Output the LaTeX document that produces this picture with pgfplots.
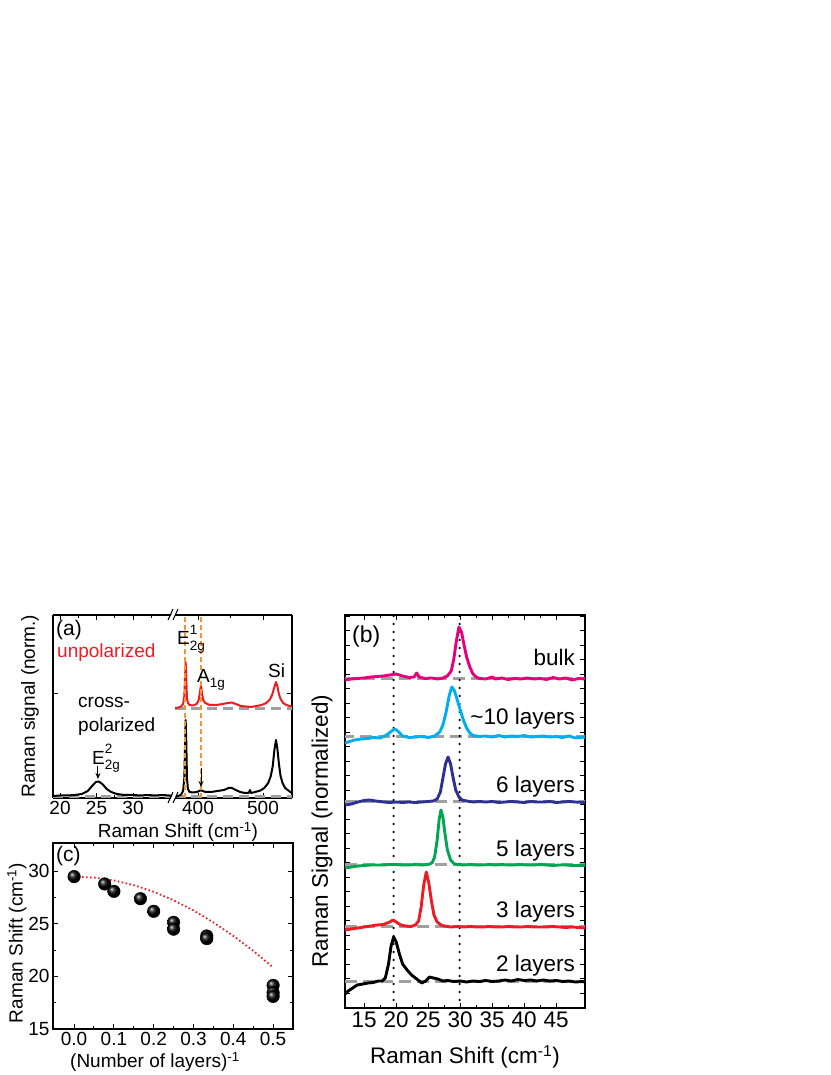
\documentclass[border=0pt]{standalone}
\usepackage{fontspec}
\setmainfont{Liberation Sans}
\usepackage{pgfplots}
\pgfplotsset{compat=1.18}
\usetikzlibrary{plotmarks,arrows.meta}
\definecolor{cred}{RGB}{237,28,36}
\definecolor{cmag}{RGB}{230,0,126}
\definecolor{ccyan}{RGB}{0,174,239}
\definecolor{cnavy}{RGB}{46,49,146}
\definecolor{cgreen}{RGB}{0,166,81}
\definecolor{corange}{RGB}{243,150,40}
\definecolor{cgray}{RGB}{160,160,160}
\newcommand{\fa}{\fontsize{19}{22}\selectfont}
\newcommand{\fb}{\fontsize{22.5}{26}\selectfont}
\newcommand{\fs}{\fontsize{13.5}{14}\selectfont}
\pgfplotsset{
  myaxis/.style={
    scale only axis, anchor=south west,
    tick align=inside,
    major tick length=5pt, minor tick length=3pt,
    axis line style={line width=1.3pt,-},
    every tick/.style={line width=1pt, black},
    every minor tick/.style={line width=1pt, black},
    /pgf/number format/assume math mode=true,
  },
}
\begin{document}
\begin{tikzpicture}
\useasboundingbox (0,0) rectangle (830pt,1075pt);

%% ---------------- panel (a), left part
\begin{axis}[myaxis, at={(53pt,277pt)}, width=122pt, height=183pt,
  xmin=19.04, xmax=35.75, ymin=0, ymax=183,
  axis x line*=box, axis y line*=left, xtick pos=both, ytick pos=left,
  xtick={20,25,30}, minor xtick={22.5,27.5,32.5,35}, ytick={104}, yticklabels={},
  tick label style={font=\fa}]
\addplot[cgray, line width=3pt, dash pattern=on 10pt off 6pt] coordinates {(19.04,1) (35.75,1)};
\addplot[black, line width=2pt, line join=round] coordinates {
(19.0,2) (20.0,2.5) (21.0,2.5) (22.0,3) (23.0,4) (23.8,7) (24.4,12) (24.9,16) (25.3,16.5)
(25.8,14) (26.4,9) (27.0,6) (27.8,4) (28.8,3) (30.0,3) (31.0,2.5) (32.0,3) (33.0,2.5)
(34.0,3) (35.0,2.5) (35.75,2)};
\draw[-{Stealth[length=6pt,width=5pt]}, line width=1pt] (axis cs:25.2,32) -- (axis cs:25.2,19);
\end{axis}

%% ---------------- panel (a), right part
\begin{axis}[myaxis, at={(175pt,277pt)}, width=117pt, height=183pt,
  xmin=364.6, xmax=544.6, ymin=0, ymax=183,
  axis x line*=box, axis y line*=right, xtick pos=both, ytick pos=right,
  xtick={400,500}, minor xtick={450}, ytick={104}, yticklabels={},
  tick label style={font=\fa}]
\addplot[cgray, line width=3pt, dash pattern=on 10pt off 6pt] coordinates {(364.6,1) (544.6,1)};
\addplot[cgray, line width=3pt, dash pattern=on 10pt off 6pt] coordinates {(364.6,89) (544.6,89)};
\addplot[black, line width=2pt, line join=round] coordinates {
(364.6,1) (370,2) (374,3.5) (377,7) (379,20) (380,50) (381,78) (382,55) (383,20) (384.5,9)
(387,6) (392,5.5) (398,6) (402,7) (404.6,8) (407,7) (412,6) (420,6) (430,7) (440,8)
(447,10) (452,10) (458,8) (465,6) (472,5) (478,5) (480,8) (481.5,5) (488,6) (496,7.5)
(502,10) (508,15) (512,22) (515,32) (517.5,48) (520,58) (522,50) (524.5,34) (527,22)
(530,15) (534,10) (538,8) (542,6) (544.6,5)};
\addplot[cred, line width=2pt, line join=round] coordinates {
(364.6,90) (370,90.5) (374,91.5) (377,94) (379,102) (380,120) (381,136) (382,118) (383,100)
(384.5,95) (387,93) (392,92.5) (398,94) (401,98) (403,106) (404.6,113) (406,105) (408,98)
(411,95) (418,93) (428,93) (438,94) (446,95) (452,95.5) (458,94) (466,92) (474,91.5)
(482,91) (490,92) (498,93) (505,95) (510,98) (514,103) (517,110) (520,116) (522,112)
(524.5,104) (527,99) (531,95) (536,93) (541,92) (544.6,91.5)};
\addplot[corange, line width=1.5pt, dash pattern=on 5pt off 3pt] coordinates {(380.3,0) (380.3,183)};
\addplot[corange, line width=1.5pt, dash pattern=on 5pt off 3pt] coordinates {(404.6,0) (404.6,183)};
\draw[-{Stealth[length=6pt,width=5pt]}, line width=1pt] (axis cs:404.6,30) -- (axis cs:404.6,11);
\end{axis}

% axis break marks
\fill[white] (169pt,272pt) -- (174pt,283pt) -- (178pt,283pt) -- (173pt,272pt) -- cycle;
\draw[line width=1pt] (168pt,272pt) -- (173pt,283pt) (173pt,272pt) -- (178pt,283pt);
\fill[white] (169pt,455pt) -- (174pt,466pt) -- (178pt,466pt) -- (173pt,455pt) -- cycle;
\draw[line width=1pt] (168pt,455pt) -- (173pt,466pt) (173pt,455pt) -- (178pt,466pt);

% panel (a) texts
\node[anchor=base west, inner sep=0, font=\fontsize{21}{24}\selectfont] at (56pt,439pt) {(a)};
\node[anchor=base west, inner sep=0, font=\fa, text=cred] at (57pt,417pt) {unpolarized};
\node[anchor=base west, inner sep=0, font=\fa] at (78pt,367pt) {cross-};
\node[anchor=base west, inner sep=0, font=\fa] at (78pt,343pt) {polarized};
\node[anchor=base west, inner sep=0, font=\fa] at (92pt,310pt) {E\rlap{\raisebox{11pt}{\fs 2}}\raisebox{-5pt}{\fs 2g}};
\node[anchor=base west, inner sep=0, font=\fa] at (177pt,430pt) {E\rlap{\raisebox{10pt}{\fs 1}}\raisebox{-6pt}{\fs 2g}};
\node[anchor=base west, inner sep=0, font=\fa] at (197pt,392pt) {A\raisebox{-5pt}{\fs 1g}};
\node[anchor=base west, inner sep=0, font=\fa] at (268pt,397pt) {Si};
\node[rotate=90, font=\fa] at (30pt,369pt) {Raman signal (norm.)};
\node[font=\fa] at (178pt,243pt) {Raman Shift (cm\textsuperscript{-1})};

%% ---------------- panel (c)
\begin{axis}[myaxis, at={(53pt,46pt)}, width=240pt, height=186pt,
  xmin=-0.053, xmax=0.55, ymin=15, ymax=32.7,
  xtick={0,0.1,0.2,0.3,0.4,0.5}, minor x tick num=1,
  ytick={15,20,25,30}, minor y tick num=1,
  tick label style={font=\fa},
  xticklabel style={/pgf/number format/.cd, fixed, fixed zerofill, precision=1}]
\addplot[cred, line width=1.8pt, dash pattern=on 1.6pt off 2.4pt] coordinates {
(0,29.5) (0.05,29.41) (0.1,29.14) (0.15,28.69) (0.2,28.06) (0.25,27.25) (0.3,26.28)
(0.35,25.14) (0.4,23.86) (0.45,22.44) (0.5,20.86)};
\addplot[only marks, mark=ball, mark size=6.3pt, mark options={ball color=black}] coordinates {
(0,29.5) (0.0769,28.8) (0.1,28.1) (0.1667,27.4) (0.2,26.2) (0.25,25.15) (0.25,24.5)
(0.3333,23.85) (0.3333,23.6) (0.5,19.15) (0.5,18.45) (0.5,18.1)};
\end{axis}
\node[anchor=base west, inner sep=0, font=\fontsize{21}{24}\selectfont] at (56pt,213pt) {(c)};
\node[rotate=90, font=\fa] at (17pt,132pt) {Raman Shift (cm\textsuperscript{-1})};
\node[font=\fa] at (155pt,13pt) {(Number of layers)\textsuperscript{-1}};

%% ---------------- panel (b)
\begin{axis}[myaxis, at={(345pt,67pt)}, width=240pt, height=393pt,
  xmin=12, xmax=49.5, ymin=0, ymax=393,
  xtick={15,20,...,45}, minor x tick num=1,
  ytick={14.5,29,...,390}, yticklabels={},
  tick label style={font=\fb}]
\addplot[cgray, line width=3pt, dash pattern=on 12pt off 6pt] coordinates {(12,329) (49.5,329)};
\addplot[cgray, line width=3pt, dash pattern=on 12pt off 6pt] coordinates {(11.5,271) (49.5,271)};
\addplot[cgray, line width=3pt, dash pattern=on 12pt off 6pt] coordinates {(12,206) (49.5,206)};
\addplot[cgray, line width=3pt, dash pattern=on 12pt off 6pt] coordinates {(12,143) (49.5,143)};
\addplot[cgray, line width=3pt, dash pattern=on 12pt off 6pt] coordinates {(12,81) (49.5,81)};
\addplot[cgray, line width=3pt, dash pattern=on 12pt off 6pt] coordinates {(12,26) (49.5,26)};
\addplot[black, line width=2.5pt, dash pattern=on 0pt off 8pt, line cap=round] coordinates {(19.6,0) (19.6,393)};
\addplot[black, line width=2.5pt, dash pattern=on 0pt off 8pt, line cap=round] coordinates {(29.9,0) (29.9,393)};
% bulk
\addplot[cmag, line width=2.9pt, line join=round] coordinates {
(12.0,328) (13.0,329) (14.0,329.5) (15.0,330) (16.0,331) (17.0,331.5) (18.0,332) (19.0,333)
(20.0,334) (21.0,332) (22.0,330.5) (22.8,331) (23.2,335) (23.6,331) (24.5,329.5) (25.5,330)
(26.5,329) (27.3,330) (28.0,332) (28.6,337) (29.0,349) (29.4,367) (29.8,381) (30.2,376)
(30.6,363) (31.0,351) (31.5,341) (32.0,334) (32.5,331) (33.0,329.5) (34.0,329) (35.0,331)
(35.5,329) (36.5,330) (37.5,328.5) (38.5,329.5) (39.5,329) (40.5,330) (41.5,329) (42.5,329.5)
(43.5,328.5) (44.5,330.5) (45.5,329) (46.5,330) (47.5,328) (48.5,329.5) (49.5,329)};
% ~10 layers
\addplot[ccyan, line width=2.9pt, line join=round] coordinates {
(12.0,265) (12.5,266) (13.5,268) (14.5,269) (15.5,269.5) (16.5,270.5) (17.5,270) (18.5,273)
(19.3,277) (19.8,279) (20.4,276) (21.0,272) (22.0,270.5) (23.0,271) (24.0,271.5) (25.0,270.5)
(26.0,272) (26.8,276) (27.3,283) (27.8,296) (28.3,313) (28.7,321) (29.1,317) (29.5,309)
(30.0,298) (30.5,288) (31.0,280) (31.5,275) (32.0,272.5) (33.0,271.5) (34.0,272) (35.0,271)
(36.0,272.5) (37.0,271) (38.0,272) (39.0,271.5) (40.0,272.5) (41.0,271) (42.0,271.5)
(43.0,272) (44.0,271) (45.0,271.5) (46.0,270.5) (47.0,272) (48.0,270) (49.5,271)};
% 6 layers
\addplot[cnavy, line width=2.9pt, line join=round] coordinates {
(12.0,203) (13.0,204) (14.0,206) (15.0,207.5) (15.8,208) (16.8,207) (18.0,206) (19.0,205.5)
(20.0,206) (21.0,205.5) (22.0,206) (23.0,205.5) (24.0,206) (25.0,206.5) (25.8,207) (26.4,209)
(26.9,216) (27.3,230) (27.7,244) (28.1,251) (28.5,244) (28.9,230) (29.3,218) (29.8,211)
(30.3,208) (31.0,207) (32.0,206) (33.0,206.5) (34.0,206) (35.0,206.5) (36.0,205.5) (37.0,206)
(38.0,206.5) (39.0,206) (40.0,205.5) (41.0,206.5) (42.0,206) (43.0,206) (44.0,206.5)
(45.0,205.5) (46.0,206) (47.0,206.5) (48.0,206) (49.5,205.5)};
% 5 layers
\addplot[cgreen, line width=2.9pt, line join=round] coordinates {
(12.0,140) (13.0,141) (14.0,142) (15.0,142.5) (16.0,143) (17.0,143) (18.0,143) (19.0,143.5)
(20.0,143.5) (21.0,143) (22.0,143) (23.0,143.5) (24.0,143) (25.0,143.5) (25.6,145) (26.0,151)
(26.4,168) (26.7,188) (27.0,198) (27.3,191) (27.6,175) (28.0,158) (28.5,148) (29.0,144.5)
(29.5,143.5) (30.5,143) (31.5,143.5) (32.5,143) (33.5,143) (34.5,143.5) (35.5,143) (36.5,143.5)
(37.5,143) (38.5,143) (39.5,143.5) (40.5,143) (41.5,143) (42.5,143.5) (43.5,143) (44.5,142.5)
(45.5,143) (46.5,143) (47.5,142.5) (48.5,142.5) (49.5,142.5)};
% 3 layers
\addplot[cred, line width=2.9pt, line join=round] coordinates {
(12.0,78) (13.0,79) (14.0,80) (15.0,81) (16.0,82) (17.0,83) (18.0,83.5) (19.0,86) (19.5,88)
(20.0,86) (20.7,83) (21.5,82) (22.3,81.5) (23.0,83) (23.5,87) (23.9,101) (24.3,123) (24.7,136)
(25.1,125) (25.5,107) (25.9,93) (26.4,86) (27.0,83) (27.5,82) (28.5,81) (29.5,81.5) (30.5,81)
(31.5,81.5) (32.5,81) (33.5,81) (34.5,81.5) (35.5,81) (36.5,81) (37.5,81.5) (38.5,81) (39.5,81)
(40.5,81.5) (41.5,81) (42.5,81) (43.5,81) (44.5,81.5) (45.5,81) (46.5,80.5) (47.5,81)
(48.5,80.5) (49.5,80)};
% 2 layers
\addplot[black, line width=2.9pt, line join=round] coordinates {
(12.0,14) (12.5,17) (13.2,20) (13.9,23) (14.8,24) (15.6,25) (16.4,25.5) (17.2,27) (17.8,27)
(18.3,30) (18.8,44) (19.2,62) (19.6,71) (20.0,66) (20.5,54) (21.0,44) (21.7,38) (22.4,33)
(23.2,29) (24.0,25) (24.6,27) (25.2,31) (25.8,30) (26.5,29) (27.3,27) (28.0,27.5) (29.0,26.5)
(30.0,27) (31.0,26) (32.0,27) (33.0,26.5) (34.0,27.5) (35.0,26.5) (36.0,27) (37.0,28) (38.0,27)
(39.0,28.5) (40.0,27.5) (41.0,28) (42.0,27) (43.0,28) (44.0,27) (45.0,27.5) (46.0,26.5)
(47.0,27) (48.0,26) (49.0,26.5) (49.5,26)};
\end{axis}
\node[anchor=base west, inner sep=0, font=\fontsize{23}{26}\selectfont] at (352pt,432pt) {(b)};
\node[anchor=base east, inner sep=0, font=\fb] at (575pt,409pt) {bulk};
\node[anchor=base east, inner sep=0, font=\fb] at (575pt,350pt) {\textasciitilde 10 layers};
\node[anchor=base east, inner sep=0, font=\fb] at (575pt,282pt) {6 layers};
\node[anchor=base east, inner sep=0, font=\fb] at (575pt,218pt) {5 layers};
\node[anchor=base east, inner sep=0, font=\fb] at (575pt,157pt) {3 layers};
\node[anchor=base east, inner sep=0, font=\fb] at (575pt,103pt) {2 layers};
\node[rotate=90, font=\fb] at (322pt,244pt) {Raman Signal (normalized)};
\node[font=\fb] at (465pt,18pt) {Raman Shift (cm\textsuperscript{-1})};
\end{tikzpicture}
\end{document}
